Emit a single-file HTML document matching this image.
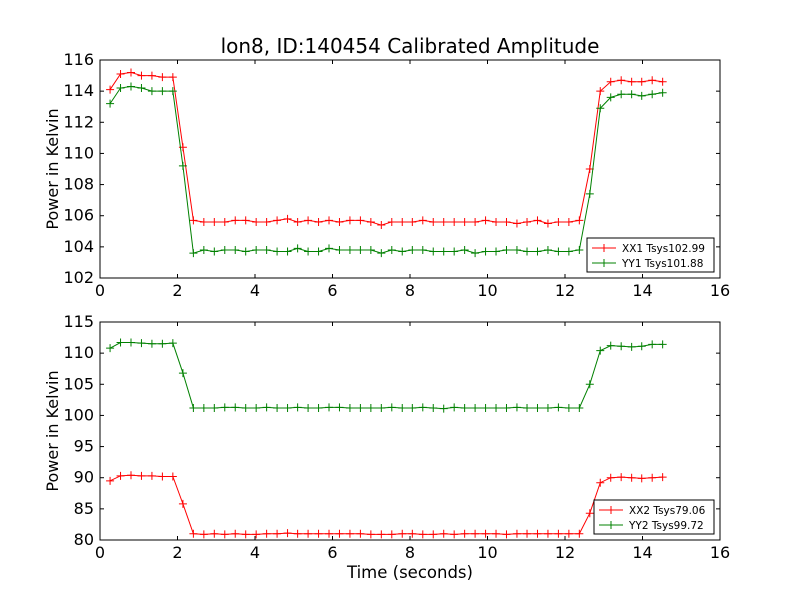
<!DOCTYPE html>
<html><head><meta charset="utf-8"><style>
body{margin:0;background:#fff}
svg text{font-family:"DejaVu Sans","Liberation Sans",sans-serif;fill:#000}
</style></head><body>
<svg id="c" width="800" height="600"></svg>
<script>
const times=[0.26,0.53,0.80,1.07,1.34,1.61,1.88,2.14,2.41,2.68,2.95,3.22,3.49,3.76,4.03,4.30,4.57,4.84,5.10,5.37,5.64,5.91,6.18,6.45,6.72,6.99,7.26,7.53,7.80,8.06,8.33,8.60,8.87,9.14,9.41,9.68,9.95,10.22,10.49,10.76,11.02,11.29,11.56,11.83,12.10,12.37,12.64,12.91,13.18,13.45,13.72,13.98,14.25,14.52];
const xx1=[114.1,115.1,115.2,115.0,115.0,114.9,114.9,110.4,105.7,105.6,105.6,105.6,105.7,105.7,105.6,105.6,105.7,105.8,105.6,105.7,105.6,105.7,105.6,105.7,105.7,105.6,105.4,105.6,105.6,105.6,105.7,105.6,105.6,105.6,105.6,105.6,105.7,105.6,105.6,105.5,105.6,105.7,105.5,105.6,105.6,105.7,109.0,114.0,114.6,114.7,114.6,114.6,114.7,114.6];
const yy1=[113.2,114.2,114.3,114.2,114.0,114.0,114.0,109.2,103.6,103.8,103.7,103.8,103.8,103.7,103.8,103.8,103.7,103.7,103.9,103.7,103.7,103.9,103.8,103.8,103.8,103.8,103.6,103.8,103.7,103.8,103.8,103.7,103.7,103.7,103.8,103.6,103.7,103.7,103.8,103.8,103.7,103.7,103.8,103.7,103.7,103.8,107.4,112.9,113.6,113.8,113.8,113.7,113.8,113.9];
const xx2=[89.5,90.3,90.4,90.3,90.3,90.2,90.2,85.8,81.0,80.9,81.0,80.9,81.0,80.9,80.9,81.0,81.0,81.1,81.0,81.0,81.0,81.0,81.0,81.0,81.0,80.9,80.9,80.9,81.0,81.0,80.9,80.9,81.0,80.9,81.0,81.0,81.0,81.0,80.9,81.0,81.0,81.0,81.0,81.0,81.0,81.0,84.3,89.2,90.0,90.1,90.0,89.9,90.0,90.1];
const yy2=[110.8,111.7,111.7,111.6,111.5,111.5,111.6,106.8,101.2,101.2,101.2,101.3,101.3,101.2,101.2,101.3,101.2,101.2,101.3,101.2,101.2,101.3,101.3,101.2,101.2,101.2,101.2,101.3,101.2,101.2,101.3,101.2,101.1,101.3,101.2,101.2,101.2,101.2,101.2,101.3,101.2,101.2,101.2,101.3,101.2,101.2,105.0,110.4,111.2,111.1,111.0,111.1,111.4,111.4];
const xTicks=[0,2,4,6,8,10,12,14,16];
const yTicksTop=[102,104,106,108,110,112,114,116];
const yTicksBot=[80,85,90,95,100,105,110,115];
const NS="http://www.w3.org/2000/svg";
const svg=document.getElementById('c');
function mk(t,a,p){const e=document.createElementNS(NS,t);for(const k in a)e.setAttribute(k,a[k]);(p||svg).appendChild(e);return e;}
function panel(top,bot,ymin,ymax,yt,series,legend,lg,nm){
  const L=100,R=720;
  const g=mk('g',{});
  
  
  const sx=v=>L+(v-0)/(16-0)*(R-L);
  const sy=v=>bot-(v-ymin)/(ymax-ymin)*(bot-top);
  xTicks.forEach(t=>{const x=sx(t);
    mk('line',{x1:x,x2:x,y1:bot,y2:bot-4,stroke:'#000'},g);mk('line',{x1:x,x2:x,y1:top,y2:top+4,stroke:'#000'},g);
    const tx=mk('text',{x:x,y:bot+18,'text-anchor':'middle','font-size':'16'},g);tx.textContent=t;
    });
  yt.forEach(t=>{const y=sy(t);
    mk('line',{x1:L,x2:L+4,y1:y,y2:y,stroke:'#000'},g);mk('line',{x1:R,x2:R-4,y1:y,y2:y,stroke:'#000'},g);
    const tx=mk('text',{x:L-6,y:y+5,'text-anchor':'end','font-size':'16'},g);tx.textContent=t;
    });
  series.forEach(s=>{
    const pl=mk('polyline',{points:s.v.map((v,i)=>sx(times[i])+','+sy(v)).join(' '),fill:'none',stroke:s.c,'stroke-width':1},g);
    
    s.v.forEach((v,i)=>{const x=sx(times[i]),y=sy(v);
      const m=mk('path',{d:`M${x-4},${y}H${x+4}M${x},${y-4}V${y+4}`,stroke:s.c,'stroke-width':1},g);
      });
  });
  mk('rect',{x:L,y:top,width:R-L,height:bot-top,fill:'none',stroke:'#000'},g);
  const yl=mk('text',{x:0,y:0,transform:`translate(58,${(top+bot)/2}) rotate(-90)`,'text-anchor':'middle','font-size':'16'},g);
  yl.textContent='Power in Kelvin';
  const lgG=mk('g',{},g);
  mk('rect',{x:lg[0],y:lg[1],width:lg[2],height:34,fill:'#fff',stroke:'#000'},lgG);
  series.forEach((s,i)=>{const y=lg[1]+10+i*15;
    mk('line',{x1:lg[0]+5,x2:lg[0]+29,y1:y,y2:y,stroke:s.c},lgG);
    mk('path',{d:`M${lg[0]+17},${y-4}V${y+4}`,stroke:s.c},lgG);
    const t=mk('text',{x:lg[0]+35,y:y+4,'font-size':'10.5'},lgG);t.textContent=legend[i];
    });
}
panel(60,278,102,116,yTicksTop,[{v:xx1,c:'#ff0000',n:'xx1'},{v:yy1,c:'#008000',n:'yy1'}],['XX1 Tsys102.99','YY1 Tsys101.88'],[587,238,127],'top-panel');
panel(322,540,80,115,yTicksBot,[{v:xx2,c:'#ff0000',n:'xx2'},{v:yy2,c:'#008000',n:'yy2'}],['XX2 Tsys79.06','YY2 Tsys99.72'],[594,500,120],'bottom-panel');
const ti=mk('text',{x:410,y:53,'text-anchor':'middle','font-size':'20'});ti.textContent='lon8, ID:140454 Calibrated Amplitude';

const xl=mk('text',{x:410,y:578,'text-anchor':'middle','font-size':'16.5'});xl.textContent='Time (seconds)';

</script>
</body></html>
